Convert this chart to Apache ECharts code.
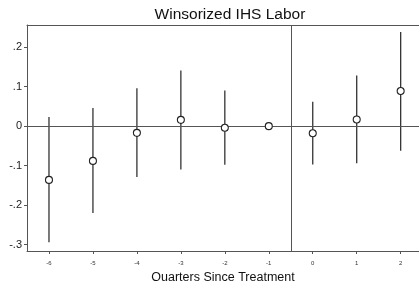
<!DOCTYPE html>
<html>
<head>
<meta charset="utf-8">
<script src="https://cdn.jsdelivr.net/npm/echarts@6/dist/echarts.min.js"></script>
<style>
  html, body { margin: 0; padding: 0; background: #fff; }
  #main { width: 419px; height: 281px; }
</style>
</head>
<body>
<div id="main"></div>
<script type="text/javascript">
// event-study estimates (quarter, point, ci low, ci high)
var quarters = [-6, -5, -4, -3, -2, -1, 0, 1, 2];
var estimates = [-0.136, -0.088, -0.017, 0.016, -0.004, 0, -0.018, 0.017, 0.089];
var ciLow = [-0.294, -0.220, -0.129, -0.110, -0.098, null, -0.097, -0.094, -0.062];
var ciHigh = [0.023, 0.046, 0.096, 0.141, 0.090, null, 0.062, 0.128, 0.238];
var yTicks = [-0.3, -0.2, -0.1, 0, 0.1, 0.2];

var points = [];
var bars = [];
for (var i = 0; i < quarters.length; i++) {
  points.push([quarters[i], estimates[i]]);
  if (ciLow[i] !== null) bars.push([quarters[i], ciLow[i], ciHigh[i]]);
}

function fmtY(v) {
  if (Math.abs(v) < 1e-9) return '0';
  var s = (Math.round(v * 10) / 10).toString();
  return s.replace('0.', '.');
}

var ink = '#222';
var frame = '#555';
var chart = echarts.init(document.getElementById('main'));
chart.setOption({
  animation: false,
  title: {
    text: 'Winsorized IHS Labor',
    left: 225, top: 2, textAlign: 'center',
    textStyle: { fontFamily: 'Liberation Sans', fontWeight: 'normal', fontSize: 15.5, color: '#111' }
  },
  grid: { left: 27, right: 0, top: 25, bottom: 30, outerBoundsMode: 'none', containLabel: false },
  xAxis: [{
    type: 'value', min: -6.5, max: 2.417,
    splitLine: { show: false },
    axisLine: { onZero: false, lineStyle: { color: frame } },
    axisTick: { customValues: quarters, length: 3, lineStyle: { color: frame } },
    axisLabel: { customValues: quarters, fontSize: 6, color: '#333', margin: 9, fontFamily: 'Liberation Sans' },
    name: 'Quarters Since Treatment',
    nameLocation: 'middle', nameGap: 19,
    nameTextStyle: { fontSize: 12.5, color: '#111', fontFamily: 'Liberation Sans' }
  }, {
    // top frame line
    type: 'value', position: 'top', min: -6.5, max: 2.417,
    splitLine: { show: false },
    axisLine: { onZero: false, lineStyle: { color: frame } },
    axisTick: { show: false }, axisLabel: { show: false }
  }],
  yAxis: {
    type: 'value', min: -0.316, max: 0.256,
    splitLine: { show: false },
    axisLine: { show: true, onZero: false, lineStyle: { color: frame } },
    axisTick: { show: true, customValues: yTicks, length: 3, lineStyle: { color: frame } },
    axisLabel: { customValues: yTicks, formatter: fmtY, fontSize: 11, color: '#222', margin: 5, fontFamily: 'Liberation Sans' }
  },
  series: [
    {
      type: 'custom',
      data: bars,
      renderItem: function (params, api) {
        var a = api.coord([api.value(0), api.value(1)]);
        var b = api.coord([api.value(0), api.value(2)]);
        return { type: 'line', shape: { x1: a[0], y1: a[1], x2: b[0], y2: b[1] },
          style: { stroke: '#333', lineWidth: 1.3 } };
      },
      z: 2
    },
    {
      type: 'scatter',
      data: points,
      symbol: 'circle', symbolSize: 7,
      itemStyle: { color: '#fff', borderColor: ink, borderWidth: 1.1, opacity: 1 },
      z: 5,
      markLine: {
        silent: true, symbol: 'none', label: { show: false },
        lineStyle: { color: frame, type: 'solid', width: 1 },
        data: [{ yAxis: 0 }, { xAxis: -0.5 }]
      }
    }
  ]
});
</script>
</body>
</html>
